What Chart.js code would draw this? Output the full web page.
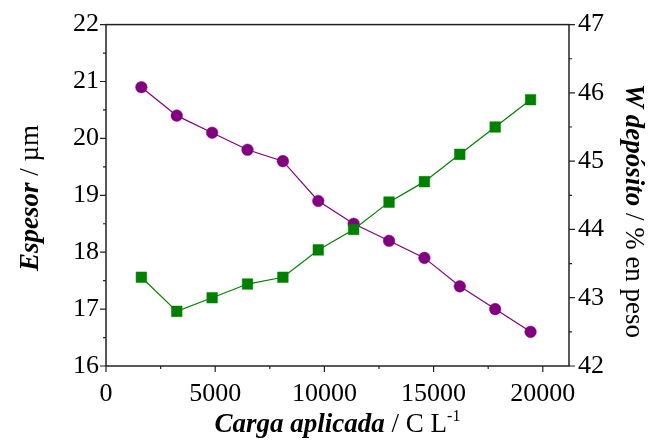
<!DOCTYPE html>
<html>
<head>
<meta charset="utf-8">
<script src="https://cdn.jsdelivr.net/npm/chart.js@4/dist/chart.umd.min.js"></script>
<style>
  html, body { margin: 0; padding: 0; background: #fff; }
  #wrap { width: 652px; height: 448px; }
</style>
</head>
<body>
<div id="wrap"><canvas id="c"></canvas></div>
<script>
// carga aplicada (C/L)
var carga = [1620, 3240, 4860, 6480, 8100, 9720, 11340, 12960, 14580, 16200, 17820, 19440];
// espesor (um) - left axis
var espesor = [20.9, 20.4, 20.1, 19.8, 19.6, 18.9, 18.5, 18.2, 17.9, 17.4, 17.0, 16.6];
// W deposito (% en peso) - right axis
var wDeposito = [43.3, 42.8, 43.0, 43.2, 43.3, 43.7, 44.0, 44.4, 44.7, 45.1, 45.5, 45.9];

var xTicks = [0, 5000, 10000, 15000, 20000];
var espesorTicks = [16, 17, 18, 19, 20, 21, 22];
var wTicks = [42, 43, 44, 45, 46, 47];

var FONT = '"Liberation Serif", "Times New Roman", serif';
var INK = '#222';

function pts(xs, ys) {
  return xs.map(function (x, i) { return { x: x, y: ys[i] }; });
}

function mids(arr) {
  var out = [];
  for (var i = 0; i < arr.length - 1; i++) out.push((arr[i] + arr[i + 1]) / 2);
  return out;
}

function setTicks(list) {
  return function (scale) {
    scale.ticks = list.map(function (v) { return { value: v }; });
  };
}

function plain(v) { return String(v); }

// draws a string made of parts with different fonts, centred on (cx, cy)
function drawParts(ctx, parts, cx, cy, rot) {
  ctx.save();
  ctx.translate(cx, cy);
  ctx.rotate(rot);
  var total = 0;
  parts.forEach(function (p) { ctx.font = p.font; total += ctx.measureText(p.text).width; });
  var x = -total / 2;
  ctx.fillStyle = '#000';
  ctx.textBaseline = 'alphabetic';
  ctx.textAlign = 'left';
  parts.forEach(function (p) {
    ctx.font = p.font;
    ctx.fillText(p.text, x, p.dy || 0);
    x += ctx.measureText(p.text).width;
  });
  ctx.restore();
}

var framePlugin = {
  id: 'frame',
  afterDraw: function (chart) {
    var ctx = chart.ctx, a = chart.chartArea;
    var sx = chart.scales.x, sl = chart.scales.y, sr = chart.scales.y2;
    ctx.save();
    ctx.strokeStyle = INK;
    ctx.lineWidth = 1.5;
    ctx.strokeRect(a.left, a.top, a.right - a.left, a.bottom - a.top);
    ctx.lineWidth = 1.2;
    ctx.beginPath();
    xTicks.forEach(function (v) {
      var p = sx.getPixelForValue(v);
      ctx.moveTo(p, a.bottom); ctx.lineTo(p, a.bottom + 6);
    });
    mids(xTicks).forEach(function (v) {
      var p = sx.getPixelForValue(v);
      ctx.moveTo(p, a.bottom); ctx.lineTo(p, a.bottom + 3);
    });
    espesorTicks.forEach(function (v) {
      var p = sl.getPixelForValue(v);
      ctx.moveTo(a.left, p); ctx.lineTo(a.left - 6, p);
    });
    mids(espesorTicks).forEach(function (v) {
      var p = sl.getPixelForValue(v);
      ctx.moveTo(a.left, p); ctx.lineTo(a.left - 3, p);
    });
    wTicks.forEach(function (v) {
      var p = sr.getPixelForValue(v);
      ctx.moveTo(a.right, p); ctx.lineTo(a.right + 6, p);
    });
    mids(wTicks).forEach(function (v) {
      var p = sr.getPixelForValue(v);
      ctx.moveTo(a.right, p); ctx.lineTo(a.right + 3, p);
    });
    ctx.stroke();
    ctx.restore();

    var bi = 'italic bold 27px ' + FONT, rg = '27px ' + FONT, sm = '16px ' + FONT;
    drawParts(ctx, [
      { text: 'Carga aplicada', font: bi },
      { text: ' / C L', font: rg },
      { text: '-1', font: sm, dy: -11 }
    ], (a.left + a.right) / 2, 432, 0);
    drawParts(ctx, [
      { text: 'Espesor', font: bi },
      { text: ' / \u00b5m', font: rg }
    ], 38, 198, -Math.PI / 2);
    drawParts(ctx, [
      { text: 'W dep\u00f3sito', font: bi },
      { text: ' / % en peso', font: rg }
    ], 626, 211, Math.PI / 2);
  }
};

new Chart(document.getElementById('c'), {
  type: 'line',
  data: {
    datasets: [
      {
        label: 'W deposito',
        data: pts(carga, wDeposito),
        yAxisID: 'y2',
        order: 0,
        borderColor: '#008000',
        backgroundColor: '#008000',
        borderWidth: 1.2,
        pointStyle: 'rect',
        pointRadius: 7.5,
        pointBorderColor: '#008000',
        pointBorderWidth: 0.5
      },
      {
        label: 'Espesor',
        data: pts(carga, espesor),
        yAxisID: 'y',
        order: 1,
        borderColor: '#800080',
        backgroundColor: '#800080',
        borderWidth: 1.2,
        pointStyle: 'circle',
        pointRadius: 5.8,
        pointBorderColor: '#800080',
        pointBorderWidth: 0.5
      }
    ]
  },
  options: {
    responsive: true,
    maintainAspectRatio: false,
    animation: false,
    layout: { padding: { top: 22, left: 0, right: 0, bottom: 0 } },
    plugins: { legend: { display: false }, tooltip: { enabled: false } },
    scales: {
      x: {
        type: 'linear',
        min: 0, max: 21200,
        afterBuildTicks: setTicks(xTicks),
        afterFit: function (s) { s.height = 82; },
        grid: { display: false, drawTicks: false },
        border: { display: false },
        ticks: { color: '#000', font: { family: FONT, size: 26 }, padding: 13, maxRotation: 0, callback: plain }
      },
      y: {
        position: 'left',
        min: 16, max: 22,
        afterBuildTicks: setTicks(espesorTicks),
        afterFit: function (s) { s.width = 106; },
        grid: { display: false, drawTicks: false },
        border: { display: false },
        ticks: { color: '#000', font: { family: FONT, size: 26 }, padding: 7, callback: plain }
      },
      y2: {
        position: 'right',
        min: 42, max: 47,
        afterBuildTicks: setTicks(wTicks),
        afterFit: function (s) { s.width = 83; },
        grid: { display: false, drawTicks: false },
        border: { display: false },
        ticks: { color: '#000', font: { family: FONT, size: 26 }, padding: 9, callback: plain }
      }
    }
  },
  plugins: [framePlugin]
});
</script>
</body>
</html>
